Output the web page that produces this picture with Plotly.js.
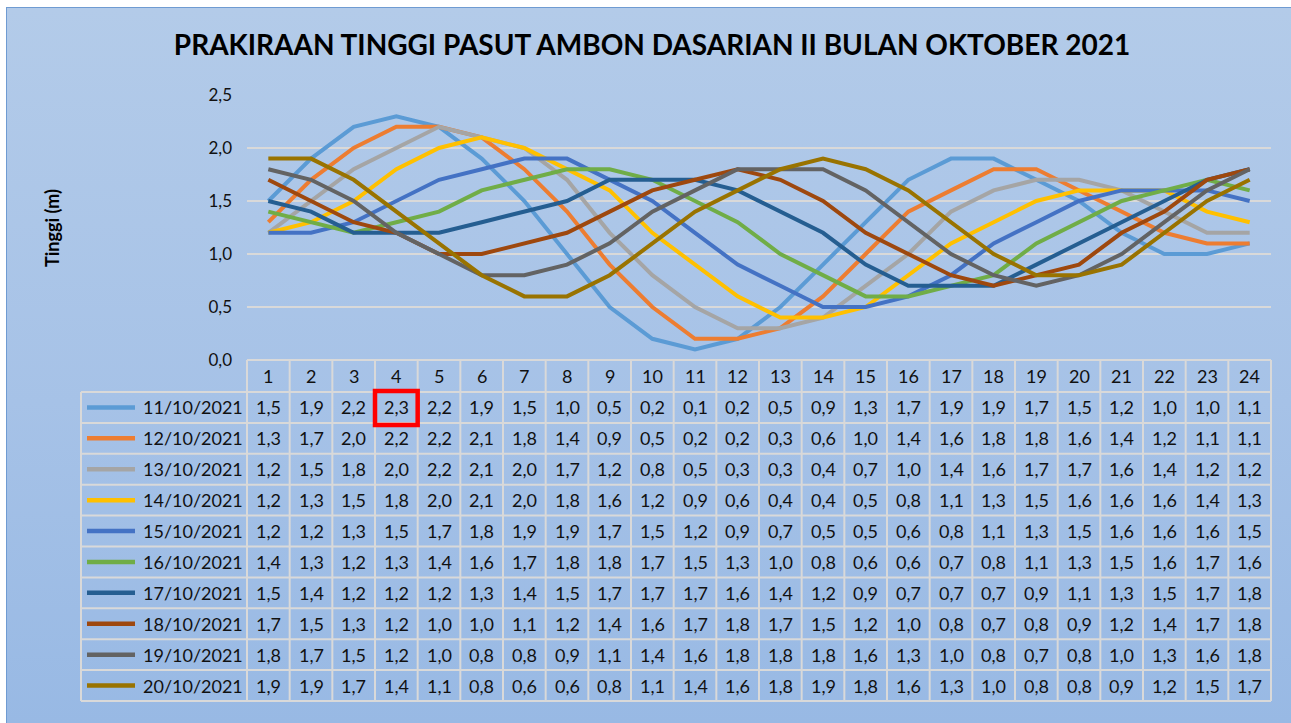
<!DOCTYPE html>
<html>
<head>
<meta charset="utf-8">
<script src="https://cdn.plot.ly/plotly-3.0.1.min.js"></script>
<style>
  html, body { margin: 0; padding: 0; background: #ffffff; width: 1291px; height: 723px; overflow: hidden; }
  #bg {
    position: absolute; left: 6px; top: 7px; width: 1285px; height: 716px;
    background: linear-gradient(to bottom, #b3cbe9 0%, #a6c2e7 55%, #98b9e4 100%);
    border-left: 1px solid #6f9bd2; border-top: 1px solid #6f9bd2;
    box-sizing: border-box;
  }
  #chart { position: absolute; left: 0; top: 0; width: 1291px; height: 723px; }
</style>
</head>
<body>
<div id="bg"></div>
<div id="chart"></div>
<script>

// =========================
// DATA
// =========================

const hours = [1, 2, 3, 4, 5, 6, 7, 8, 9, 10, 11, 12, 13, 14, 15, 16, 17, 18, 19, 20, 21, 22, 23, 24];

const dates = [
  "11/10/2021", "12/10/2021", "13/10/2021", "14/10/2021", "15/10/2021",
  "16/10/2021", "17/10/2021", "18/10/2021", "19/10/2021", "20/10/2021"
];

const d11 = [1.5, 1.9, 2.2, 2.3, 2.2, 1.9, 1.5, 1.0, 0.5, 0.2, 0.1, 0.2, 0.5, 0.9, 1.3, 1.7, 1.9, 1.9, 1.7, 1.5, 1.2, 1.0, 1.0, 1.1];
const d12 = [1.3, 1.7, 2.0, 2.2, 2.2, 2.1, 1.8, 1.4, 0.9, 0.5, 0.2, 0.2, 0.3, 0.6, 1.0, 1.4, 1.6, 1.8, 1.8, 1.6, 1.4, 1.2, 1.1, 1.1];
const d13 = [1.2, 1.5, 1.8, 2.0, 2.2, 2.1, 2.0, 1.7, 1.2, 0.8, 0.5, 0.3, 0.3, 0.4, 0.7, 1.0, 1.4, 1.6, 1.7, 1.7, 1.6, 1.4, 1.2, 1.2];
const d14 = [1.2, 1.3, 1.5, 1.8, 2.0, 2.1, 2.0, 1.8, 1.6, 1.2, 0.9, 0.6, 0.4, 0.4, 0.5, 0.8, 1.1, 1.3, 1.5, 1.6, 1.6, 1.6, 1.4, 1.3];
const d15 = [1.2, 1.2, 1.3, 1.5, 1.7, 1.8, 1.9, 1.9, 1.7, 1.5, 1.2, 0.9, 0.7, 0.5, 0.5, 0.6, 0.8, 1.1, 1.3, 1.5, 1.6, 1.6, 1.6, 1.5];
const d16 = [1.4, 1.3, 1.2, 1.3, 1.4, 1.6, 1.7, 1.8, 1.8, 1.7, 1.5, 1.3, 1.0, 0.8, 0.6, 0.6, 0.7, 0.8, 1.1, 1.3, 1.5, 1.6, 1.7, 1.6];
const d17 = [1.5, 1.4, 1.2, 1.2, 1.2, 1.3, 1.4, 1.5, 1.7, 1.7, 1.7, 1.6, 1.4, 1.2, 0.9, 0.7, 0.7, 0.7, 0.9, 1.1, 1.3, 1.5, 1.7, 1.8];
const d18 = [1.7, 1.5, 1.3, 1.2, 1.0, 1.0, 1.1, 1.2, 1.4, 1.6, 1.7, 1.8, 1.7, 1.5, 1.2, 1.0, 0.8, 0.7, 0.8, 0.9, 1.2, 1.4, 1.7, 1.8];
const d19 = [1.8, 1.7, 1.5, 1.2, 1.0, 0.8, 0.8, 0.9, 1.1, 1.4, 1.6, 1.8, 1.8, 1.8, 1.6, 1.3, 1.0, 0.8, 0.7, 0.8, 1.0, 1.3, 1.6, 1.8];
const d20 = [1.9, 1.9, 1.7, 1.4, 1.1, 0.8, 0.6, 0.6, 0.8, 1.1, 1.4, 1.6, 1.8, 1.9, 1.8, 1.6, 1.3, 1.0, 0.8, 0.8, 0.9, 1.2, 1.5, 1.7];

const series = [d11, d12, d13, d14, d15, d16, d17, d18, d19, d20];

const colors = [
  "#5b9bd5", "#ed7d31", "#a5a5a5", "#ffc000", "#4472c4",
  "#70ad47", "#255e91", "#9e480e", "#636363", "#997300"
];

// cell yang ditandai (baris 0, jam 4)
const markRow = 0;
const markHour = 4;

// =========================
// GEOMETRI (pixel -> paper)
// =========================

const plotLeft = 247, plotRight = 1271, plotTop = 95, plotBottom = 360;
const plotW = plotRight - plotLeft;
const plotH = plotBottom - plotTop;

function px(x) { return (x - plotLeft) / plotW; }
function py(y) { return (plotBottom - y) / plotH; }

const headTop = 360, headBottom = 392, rowH = 30.9;
const tableLeft = 81;
const tableBottom = headBottom + rowH * dates.length;

function rowMid(i) { return headBottom + rowH * (i + 0.5); }

function fmt(v) { return v.toFixed(1).replace(".", ","); }

const FONT = "Lato, 'Open Sans', sans-serif";
const gridCol = "#d9d9d9";
const txtCol = "#111111";

// =========================
// TRACES
// =========================

let traces = series.map((s, i) => ({
  x: hours,
  y: s,
  type: "scatter",
  mode: "lines",
  name: dates[i],
  line: { color: colors[i], width: 4 },
  hoverinfo: "skip"
}));

// =========================
// TABLE
// =========================

let shapes = [];
let annotations = [];

// garis horizontal
shapes.push({ type: "line", xref: "paper", yref: "paper",
  x0: 0, x1: 1, y0: py(headTop), y1: py(headTop),
  line: { color: gridCol, width: 2 } });

for (let k = 0; k <= dates.length; k++) {
  let yy = py(headBottom + rowH * k);
  shapes.push({ type: "line", xref: "paper", yref: "paper",
    x0: px(tableLeft), x1: 1, y0: yy, y1: yy,
    line: { color: gridCol, width: 2 } });
}

// garis vertikal
shapes.push({ type: "line", xref: "paper", yref: "paper",
  x0: px(tableLeft), x1: px(tableLeft), y0: py(headBottom), y1: py(tableBottom),
  line: { color: gridCol, width: 2 } });
shapes.push({ type: "line", xref: "paper", yref: "paper",
  x0: 0, x1: 0, y0: py(headTop), y1: py(tableBottom),
  line: { color: gridCol, width: 2 } });
shapes.push({ type: "line", xref: "paper", yref: "paper",
  x0: 1, x1: 1, y0: py(headTop), y1: py(tableBottom),
  line: { color: gridCol, width: 2 } });

for (let h = 1; h < hours.length; h++) {
  shapes.push({ type: "line", xref: "x", yref: "paper",
    x0: h + 0.5, x1: h + 0.5, y0: py(headTop), y1: py(tableBottom),
    line: { color: gridCol, width: 2 } });
}

// header jam
hours.forEach(h => {
  annotations.push({ x: h, y: py((headTop + headBottom) / 2), xref: "x", yref: "paper",
    text: String(h), showarrow: false, xanchor: "center", yanchor: "middle",
    font: { family: FONT, size: 18, color: txtCol } });
});

// baris data
series.forEach((s, i) => {
  let yy = py(rowMid(i));

  shapes.push({ type: "line", xref: "paper", yref: "paper",
    x0: px(87), x1: px(135), y0: yy, y1: yy,
    line: { color: colors[i], width: 4.5 } });

  annotations.push({ x: px(141), y: yy, xref: "paper", yref: "paper",
    text: dates[i], showarrow: false, xanchor: "left", yanchor: "middle",
    font: { family: FONT, size: 18, color: txtCol } });

  s.forEach((v, j) => {
    annotations.push({ x: hours[j], y: yy, xref: "x", yref: "paper",
      text: fmt(v), showarrow: false, xanchor: "center", yanchor: "middle",
      font: { family: FONT, size: 18, color: txtCol } });
  });
});

// kotak merah
shapes.push({ type: "rect", xref: "x", yref: "paper",
  x0: markHour - 0.5, x1: markHour + 0.5,
  y0: py(headBottom + rowH * markRow - 1), y1: py(headBottom + rowH * (markRow + 1) + 2),
  line: { color: "#ff0000", width: 4.5 } });

// judul sumbu y
annotations.push({ x: px(52), y: py(228), xref: "paper", yref: "paper",
  text: "<b>Tinggi (m)</b>", showarrow: false, textangle: -90,
  xanchor: "center", yanchor: "middle",
  font: { family: FONT, size: 18, color: "#000000" } });

// =========================
// LAYOUT
// =========================

let layout = {
  width: 1291,
  height: 723,
  margin: { l: plotLeft, r: 1291 - plotRight, t: plotTop, b: 723 - plotBottom, pad: 0 },
  paper_bgcolor: "rgba(0,0,0,0)",
  plot_bgcolor: "rgba(0,0,0,0)",
  separators: ",.",
  showlegend: false,
  title: {
    text: "<b>PRAKIRAAN TINGGI PASUT AMBON DASARIAN II BULAN OKTOBER 2021</b>",
    xref: "container", x: 652 / 1291, xanchor: "center",
    yref: "container", y: 1 - 45 / 723, yanchor: "middle",
    font: { family: FONT, size: 28, color: "#000000" }
  },
  xaxis: {
    range: [0.5, 24.5],
    showgrid: false, zeroline: false, showline: false,
    showticklabels: false, ticks: "", fixedrange: true
  },
  yaxis: {
    range: [0, 2.5],
    dtick: 0.5,
    tickformat: ".1f",
    showgrid: true, gridcolor: gridCol, gridwidth: 2,
    zeroline: false, showline: false, ticks: "",
    ticklabelstandoff: 14,
    tickfont: { family: FONT, size: 17, color: txtCol },
    fixedrange: true
  },
  shapes: shapes,
  annotations: annotations
};

Plotly.newPlot("chart", traces, layout, { displayModeBar: false, staticPlot: true });

</script>
</body>
</html>
